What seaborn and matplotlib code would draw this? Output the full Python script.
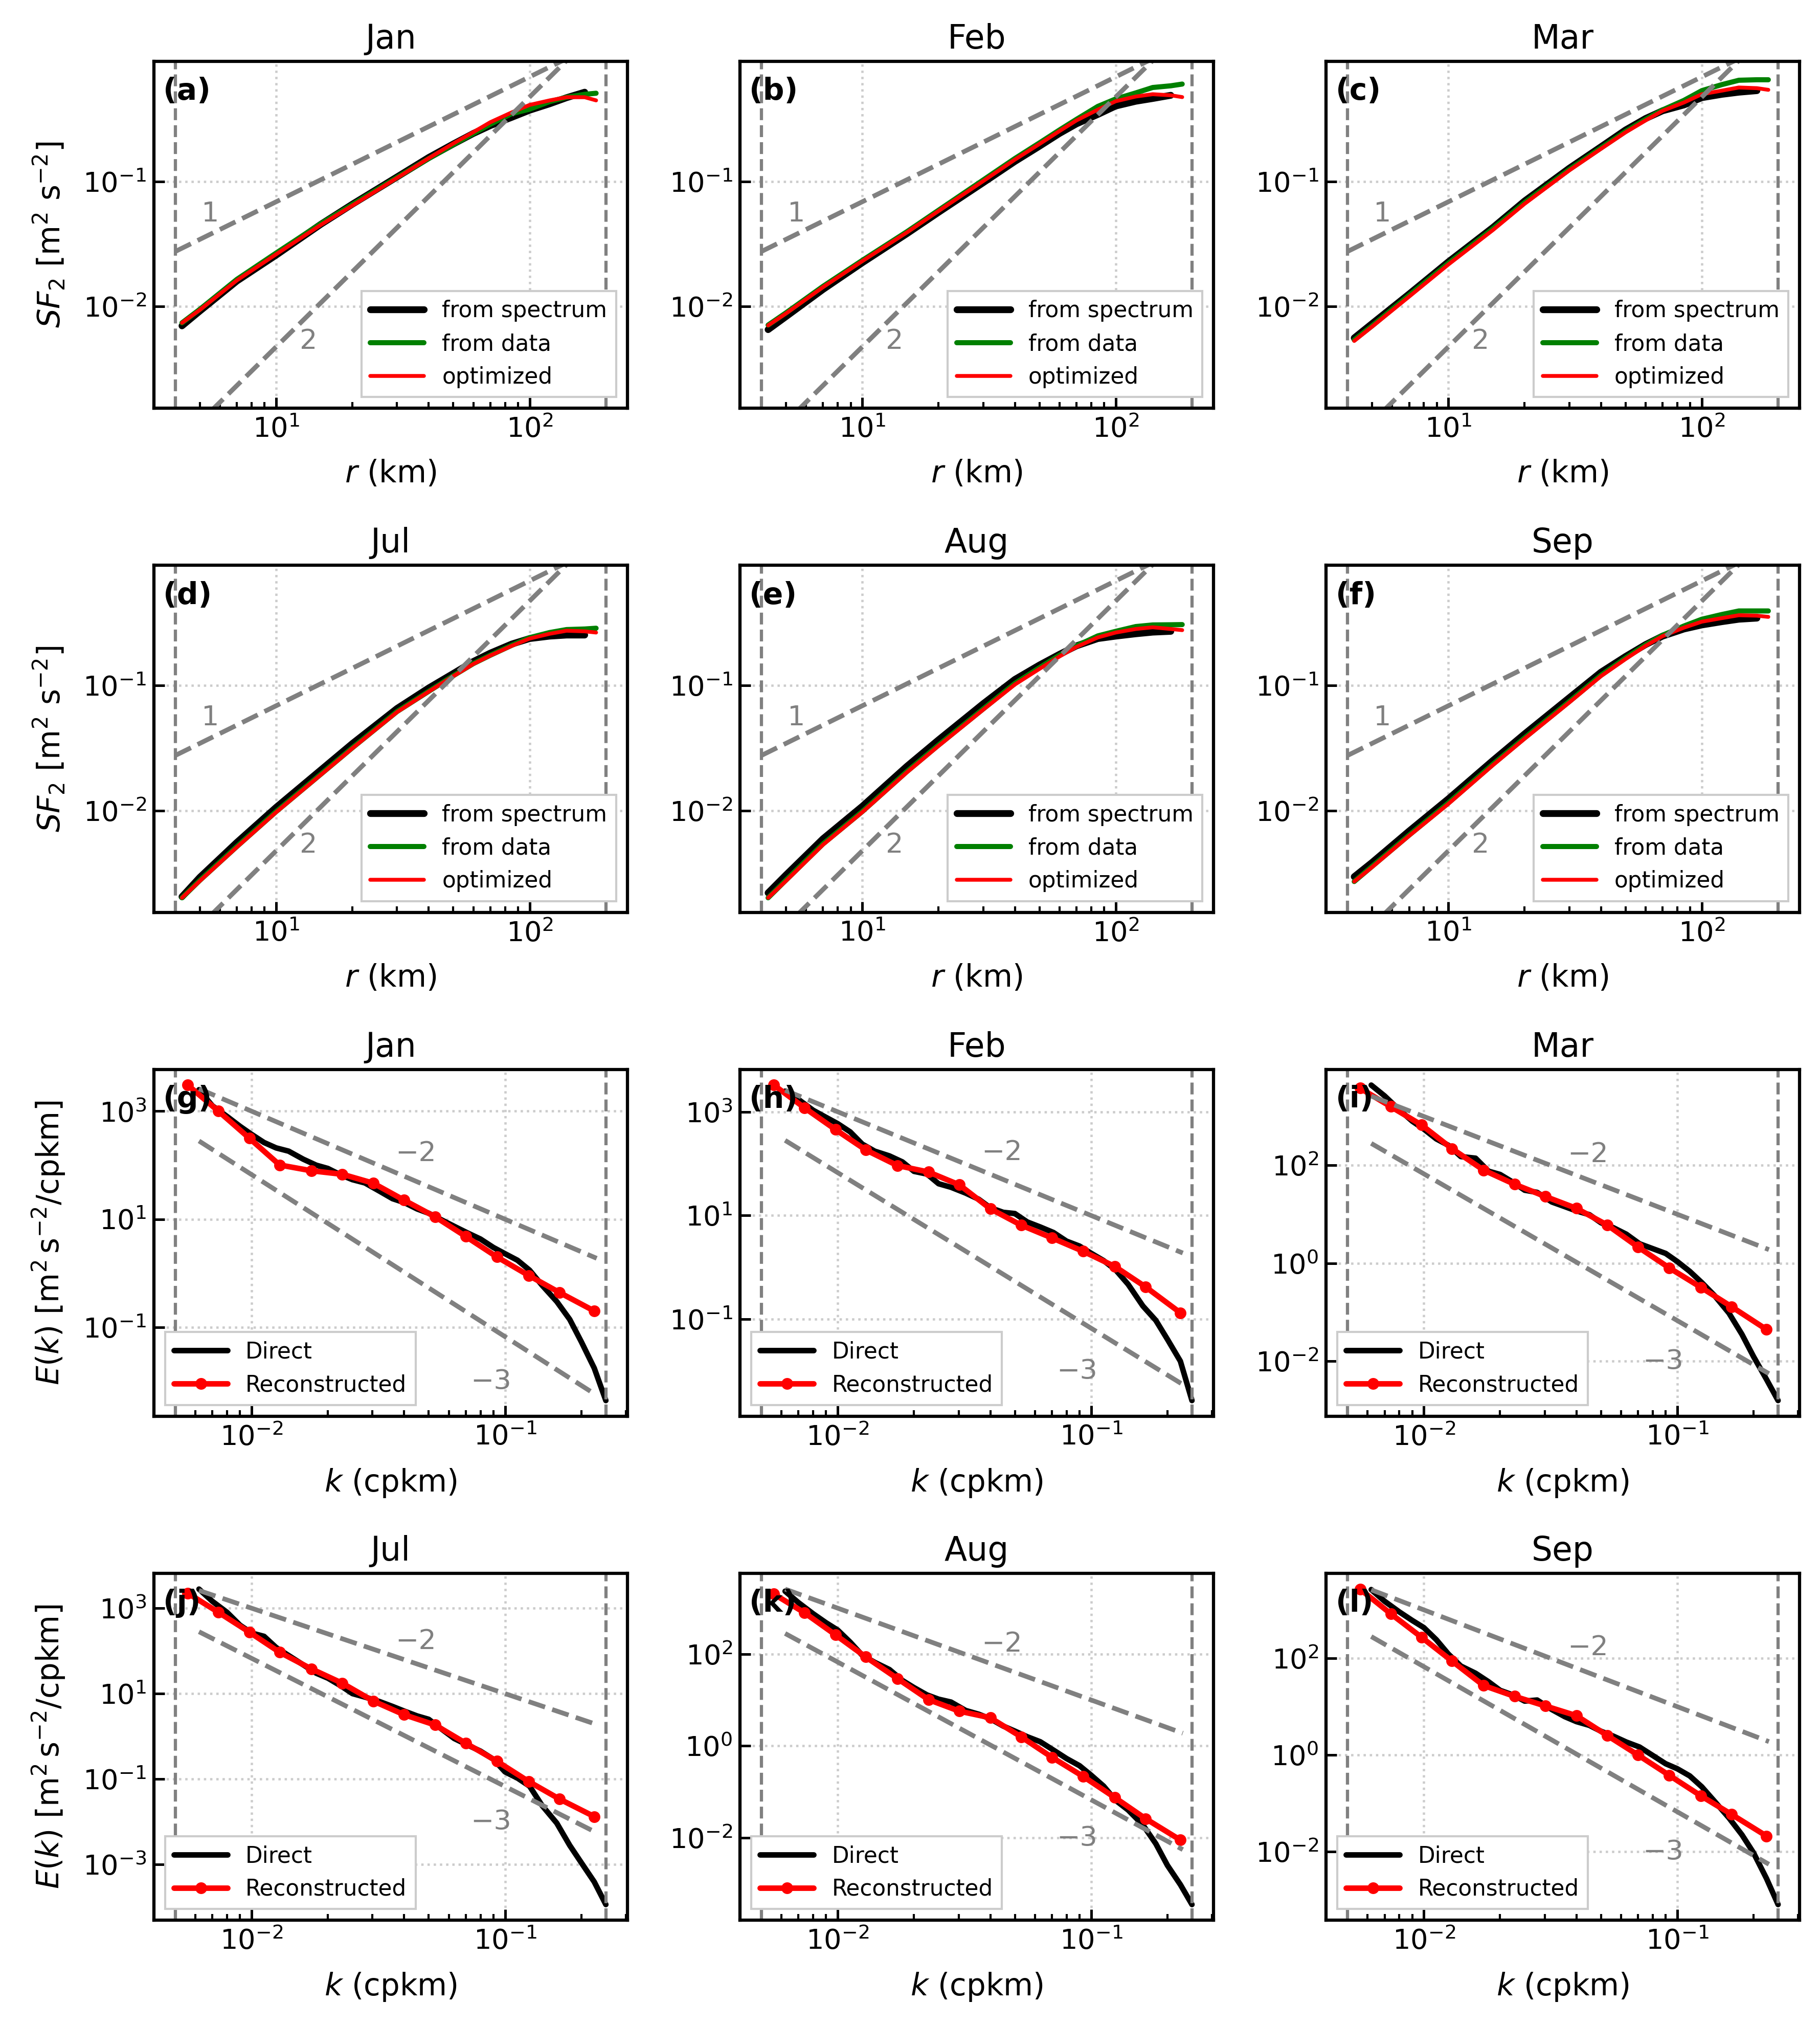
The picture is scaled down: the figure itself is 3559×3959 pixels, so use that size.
import matplotlib
matplotlib.use("Agg")
import matplotlib.pyplot as plt
from matplotlib.ticker import NullLocator
import seaborn as sns

# --- DATA ---
months = ["Jan", "Feb", "Mar", "Jul", "Aug", "Sep"]
sf_letters = ["(a)", "(b)", "(c)", "(d)", "(e)", "(f)"]
spec_letters = ["(g)", "(h)", "(i)", "(j)", "(k)", "(l)"]

# second-order structure functions, r in km
r_spec = [4.25, 5, 7, 10, 15, 20, 30, 40, 50, 60, 70, 85, 100, 120, 140, 165]
r_data = [4.25, 5, 7, 10, 15, 20, 30, 40, 50, 60, 70, 85, 100, 120, 140, 165, 183]

sf_spec_jan = [0.0070, 0.0092, 0.0160, 0.0258, 0.0455, 0.066, 0.109, 0.156, 0.200, 0.243, 0.281, 0.327, 0.373, 0.42, 0.47, 0.52]
sf_data_jan = [0.0074, 0.0095, 0.0165, 0.0268, 0.046, 0.0655, 0.108, 0.153, 0.198, 0.243, 0.288, 0.35, 0.38, 0.437, 0.474, 0.50, 0.51]
sf_opt_jan = [0.0074, 0.0094, 0.0162, 0.0262, 0.045, 0.0644, 0.107, 0.154, 0.202, 0.249, 0.299, 0.358, 0.411, 0.447, 0.474, 0.474, 0.447]

sf_spec_feb = [0.00653, 0.0083, 0.0137, 0.0224, 0.0383, 0.0568, 0.098, 0.145, 0.192, 0.243, 0.29, 0.345, 0.403, 0.44, 0.463, 0.491]
sf_data_feb = [0.0071, 0.0089, 0.0145, 0.0234, 0.0397, 0.059, 0.103, 0.153, 0.204, 0.259, 0.315, 0.40, 0.459, 0.513, 0.567, 0.585, 0.604]
sf_opt_feb = [0.00706, 0.0088, 0.0143, 0.0231, 0.0392, 0.0582, 0.101, 0.150, 0.200, 0.254, 0.309, 0.377, 0.440, 0.480, 0.501, 0.491, 0.475]

sf_spec_mar = [0.0056, 0.0073, 0.0126, 0.0228, 0.043, 0.070, 0.128, 0.19, 0.259, 0.32, 0.369, 0.411, 0.47, 0.50, 0.52, 0.535]
sf_data_mar = [0.0054, 0.0070, 0.0123, 0.0222, 0.042, 0.068, 0.125, 0.186, 0.252, 0.315, 0.375, 0.447, 0.535, 0.598, 0.648, 0.654, 0.654]
sf_opt_mar = [0.0053, 0.0069, 0.0120, 0.0217, 0.041, 0.0665, 0.123, 0.183, 0.248, 0.309, 0.369, 0.430, 0.501, 0.535, 0.567, 0.560, 0.543]

sf_spec_jul = [0.00204, 0.00292, 0.00556, 0.0106, 0.0211, 0.0344, 0.0656, 0.0957, 0.125, 0.156, 0.182, 0.215, 0.238, 0.249, 0.254, 0.254]
sf_data_jul = [0.0020, 0.00276, 0.00515, 0.0098, 0.0195, 0.0318, 0.062, 0.090, 0.12, 0.15, 0.175, 0.21, 0.242, 0.266, 0.281, 0.284, 0.288]
sf_opt_jul = [0.0020, 0.00273, 0.00509, 0.00969, 0.0193, 0.0315, 0.0614, 0.0895, 0.119, 0.149, 0.174, 0.208, 0.238, 0.260, 0.275, 0.272, 0.266]

sf_spec_aug = [0.00219, 0.00305, 0.00594, 0.0108, 0.0226, 0.0368, 0.0716, 0.112, 0.146, 0.178, 0.208, 0.238, 0.249, 0.260, 0.268, 0.272]
sf_data_aug = [0.0020, 0.00277, 0.0054, 0.0098, 0.0205, 0.0334, 0.065, 0.104, 0.139, 0.175, 0.208, 0.25, 0.272, 0.297, 0.306, 0.307, 0.308]
sf_opt_aug = [0.0020, 0.00273, 0.00532, 0.00969, 0.0202, 0.0329, 0.0641, 0.102, 0.136, 0.171, 0.204, 0.243, 0.266, 0.284, 0.293, 0.284, 0.278]

sf_spec_sep = [0.00295, 0.00384, 0.00685, 0.0124, 0.0252, 0.0411, 0.080, 0.128, 0.171, 0.213, 0.249, 0.284, 0.306, 0.325, 0.34, 0.347]
sf_data_sep = [0.0027, 0.00357, 0.00635, 0.0115, 0.0235, 0.0382, 0.0745, 0.121, 0.166, 0.212, 0.253, 0.30, 0.34, 0.371, 0.396, 0.396, 0.396]
sf_opt_sep = [0.0027, 0.00352, 0.00627, 0.0113, 0.0231, 0.0376, 0.0733, 0.119, 0.163, 0.208, 0.249, 0.291, 0.325, 0.347, 0.366, 0.363, 0.355]

# kinetic energy spectra, k in cpkm
k_direct = [0.0062, 0.0070, 0.0080, 0.0090, 0.010, 0.0112, 0.0125, 0.014, 0.016, 0.018, 0.020,
            0.0225, 0.025, 0.028, 0.032, 0.036, 0.040, 0.045, 0.050, 0.056, 0.063, 0.071,
            0.080, 0.090, 0.100, 0.112, 0.125, 0.140, 0.160, 0.180, 0.200, 0.225, 0.250]
k_rec = [0.0056, 0.0074, 0.0098, 0.0129, 0.0172, 0.0228, 0.0302, 0.040, 0.053, 0.070, 0.093, 0.124, 0.164, 0.225]

E_direct_jan = [2500, 1260, 800, 525, 372, 263, 209, 182, 129, 100, 87, 66, 54, 47, 33, 24, 20.4, 15.5, 12.9, 9.8,
                7.4, 5.6, 4.3, 3.0, 2.3, 1.74, 1.14, 0.60, 0.30, 0.14, 0.054, 0.0175, 0.0044]
E_rec_jan = [3040, 1000, 316, 101, 79, 68, 46.5, 22.5, 11.1, 4.8, 2.0, 0.91, 0.44, 0.20]

E_direct_feb = [2500, 1730, 1070, 780, 590, 410, 238, 174, 141, 108, 71, 63, 41, 35, 27, 20.6, 14.1, 11.5, 10.9, 7.5,
                6.0, 4.7, 3.2, 2.57, 1.87, 1.35, 0.89, 0.47, 0.18, 0.095, 0.041, 0.0155, 0.0027]
E_rec_feb = [3270, 1190, 454, 184, 92, 69, 39, 13.5, 6.5, 3.7, 2.04, 1.04, 0.42, 0.133]

E_direct_mar = [4370, 2630, 1365, 800, 550, 347, 257, 151, 140, 76, 65, 45, 31, 28, 17.8, 14.3, 11.7, 9.8, 6.7, 5.3,
                3.9, 2.49, 1.98, 1.58, 1.08, 0.68, 0.40, 0.22, 0.095, 0.035, 0.0123, 0.0042, 0.00155]
E_rec_mar = [3780, 1590, 668, 220, 80, 41, 23, 13.2, 6.0, 2.14, 0.80, 0.32, 0.128, 0.044]

E_direct_jul = [2800, 1450, 800, 400, 262, 219, 120, 78, 47, 30, 23, 15.2, 10, 8.3, 6.5, 5.0, 3.9, 3.0, 2.5, 1.5,
                0.89, 0.63, 0.45, 0.29, 0.147, 0.105, 0.068, 0.024, 0.0093, 0.0028, 0.0011, 0.00039, 0.000115]
E_rec_jul = [2240, 800, 275, 93, 38, 17.5, 6.7, 3.2, 1.84, 0.69, 0.26, 0.0875, 0.034, 0.0132]

E_direct_aug = [2340, 1320, 755, 480, 333, 182, 94, 66, 46, 26.6, 18.6, 12.9, 10.4, 9.0, 5.9, 4.9, 3.9, 2.7, 2.1, 1.58,
                1.23, 0.81, 0.53, 0.37, 0.23, 0.133, 0.065, 0.040, 0.019, 0.0074, 0.0025, 0.00095, 0.00035]
E_rec_aug = [2030, 792, 262, 86.5, 29.3, 10.2, 5.7, 4.1, 1.57, 0.565, 0.216, 0.075, 0.026, 0.0089]

E_direct_sep = [2630, 1510, 910, 605, 430, 242, 122, 69, 49, 32.7, 21.7, 17.4, 13, 13.7, 8.7, 6.2, 4.9, 4.1, 3.1, 2.45,
                1.85, 1.46, 0.98, 0.66, 0.52, 0.37, 0.22, 0.112, 0.050, 0.0224, 0.0095, 0.0028, 0.00081]
E_rec_sep = [2690, 834, 271, 88, 27.4, 16.3, 10.3, 6.5, 2.52, 1.0, 0.38, 0.143, 0.059, 0.0211]

# reference slopes / bounds
r_bounds = [4, 200]            # km, dashed verticals
k_bounds = [0.005, 0.25]       # cpkm, dashed verticals
sf_anchor = 145.0              # slope-1 and slope-2 lines reach 1 m2 s-2 here
k_ref = [0.0062, 0.23]
c_m2 = 0.1                     # E = c k^-2
c_m3 = 6.7e-5                  # E = c k^-3
sf_ylim = (1.53e-3, 0.918)
spec_yticks = {"Jan": [1e-1, 1e1, 1e3], "Feb": [1e-1, 1e1, 1e3], "Mar": [1e-2, 1e0, 1e2],
               "Jul": [1e-3, 1e-1, 1e1, 1e3], "Aug": [1e-2, 1e0, 1e2], "Sep": [1e-2, 1e0, 1e2]}

sf_spec = dict(zip(months, [sf_spec_jan, sf_spec_feb, sf_spec_mar, sf_spec_jul, sf_spec_aug, sf_spec_sep]))
sf_data = dict(zip(months, [sf_data_jan, sf_data_feb, sf_data_mar, sf_data_jul, sf_data_aug, sf_data_sep]))
sf_opt = dict(zip(months, [sf_opt_jan, sf_opt_feb, sf_opt_mar, sf_opt_jul, sf_opt_aug, sf_opt_sep]))
E_direct = dict(zip(months, [E_direct_jan, E_direct_feb, E_direct_mar, E_direct_jul, E_direct_aug, E_direct_sep]))
E_rec = dict(zip(months, [E_rec_jan, E_rec_feb, E_rec_mar, E_rec_jul, E_rec_aug, E_rec_sep]))

# --- STYLE ---
sns.set_style("ticks")
plt.rcParams.update({
    "font.family": ["DejaVu Sans"],
    "axes.edgecolor": "black",
    "axes.labelcolor": "black",
    "text.color": "black",
    "xtick.color": "black",
    "ytick.color": "black",
    "axes.linewidth": 1.5,
    "mathtext.default": "it",
})

TICK_FS = 13
LABEL_FS = 14.3
TITLE_FS = 15.5
LEG_FS = 10.5
LABEL_PAD = 7.5


def finish_axis(ax, letter, month):
    ax.set_title(month, fontsize=TITLE_FS)
    ax.grid(True, which="major", ls=":", color="0.8", lw=1.1)
    ax.yaxis.set_minor_locator(NullLocator())
    ax.tick_params(which="both", direction="in", top=False, right=False)
    ax.tick_params(which="major", length=5, width=1.2, labelsize=TICK_FS)
    ax.tick_params(which="minor", length=3, width=1.0)
    ax.text(0.02, 0.955, letter, transform=ax.transAxes, fontsize=14,
            fontweight="bold", va="top", ha="left", zorder=10)


fig, axes = plt.subplots(4, 3, figsize=(3559 / 300, 3959 / 300), dpi=300)
fig.subplots_adjust(left=0.0845, right=0.9888, bottom=0.0517, top=0.9697,
                    wspace=0.2376, hspace=0.4525)

# --- STRUCTURE FUNCTIONS ---
for i, m in enumerate(months):
    ax = axes[i // 3, i % 3]
    ax.set_xscale("log")
    ax.set_yscale("log")
    sns.lineplot(x=r_spec, y=sf_spec[m], ax=ax, color="black", lw=3.2,
                 label="from spectrum", errorbar=None)
    sns.lineplot(x=r_data, y=sf_data[m], ax=ax, color="green", lw=2.4,
                 label="from data", errorbar=None)
    sns.lineplot(x=r_data, y=sf_opt[m], ax=ax, color="red", lw=1.8,
                 label="optimized", errorbar=None)
    for rb in r_bounds:
        ax.axvline(rb, color="gray", ls="--", lw=1.5)
    ax.plot(r_bounds, [(r / sf_anchor) for r in r_bounds], color="gray", ls="--", lw=2.2)
    ax.plot(r_bounds, [(r / sf_anchor) ** 2 for r in r_bounds], color="gray", ls="--", lw=2.2)
    ax.text(5.5, 0.0555, "1", color="gray", fontsize=13, ha="center", va="center")
    ax.text(13.4, 0.0053, "2", color="gray", fontsize=13, ha="center", va="center")
    ax.set_ylim(*sf_ylim)
    ax.set_xlabel("$r$ (km)", fontsize=LABEL_FS, labelpad=LABEL_PAD)
    if i % 3 == 0:
        ax.set_ylabel(r"$SF_2\ [\mathrm{m^2\ s^{-2}}]$", fontsize=LABEL_FS, labelpad=LABEL_PAD)
    else:
        ax.set_ylabel("")
    ax.legend(loc="lower right", fontsize=LEG_FS, fancybox=False, framealpha=1,
              edgecolor="0.8", handlelength=2.4)
    finish_axis(ax, sf_letters[i], m)

# --- SPECTRA ---
for i, m in enumerate(months):
    ax = axes[2 + i // 3, i % 3]
    ax.set_xscale("log")
    ax.set_yscale("log")
    sns.lineplot(x=k_direct, y=E_direct[m], ax=ax, color="black", lw=2.6,
                 label="Direct", errorbar=None)
    sns.lineplot(x=k_rec, y=E_rec[m], ax=ax, color="red", lw=2.6, marker="o",
                 markersize=5.5, markeredgecolor="red", markeredgewidth=0,
                 label="Reconstructed", errorbar=None)
    for kb in k_bounds:
        ax.axvline(kb, color="gray", ls="--", lw=1.5)
    ax.plot(k_ref, [c_m2 * k ** -2 for k in k_ref], color="gray", ls="--", lw=2.2)
    ax.plot(k_ref, [c_m3 * k ** -3 for k in k_ref], color="gray", ls="--", lw=2.2)
    ax.text(0.0445, 3.3 * c_m2 * 0.0445 ** -2, "\u22122", color="gray", fontsize=13,
            ha="center", va="center")
    ax.text(0.088, 0.1 * c_m3 * 0.088 ** -3, "\u22123", color="gray", fontsize=13,
            ha="center", va="center")
    ax.set_yticks(spec_yticks[m])
    ax.set_xlabel("$k$ (cpkm)", fontsize=LABEL_FS, labelpad=LABEL_PAD)
    if i % 3 == 0:
        ax.set_ylabel(r"$E(k)\ [\mathrm{m^2\,s^{-2}/cpkm}]$", fontsize=LABEL_FS, labelpad=LABEL_PAD)
    else:
        ax.set_ylabel("")
    ax.legend(loc="lower left", fontsize=LEG_FS, fancybox=False, framealpha=1,
              edgecolor="0.8", handlelength=2.4)
    finish_axis(ax, spec_letters[i], m)

fig.savefig("out.png", dpi=300)
